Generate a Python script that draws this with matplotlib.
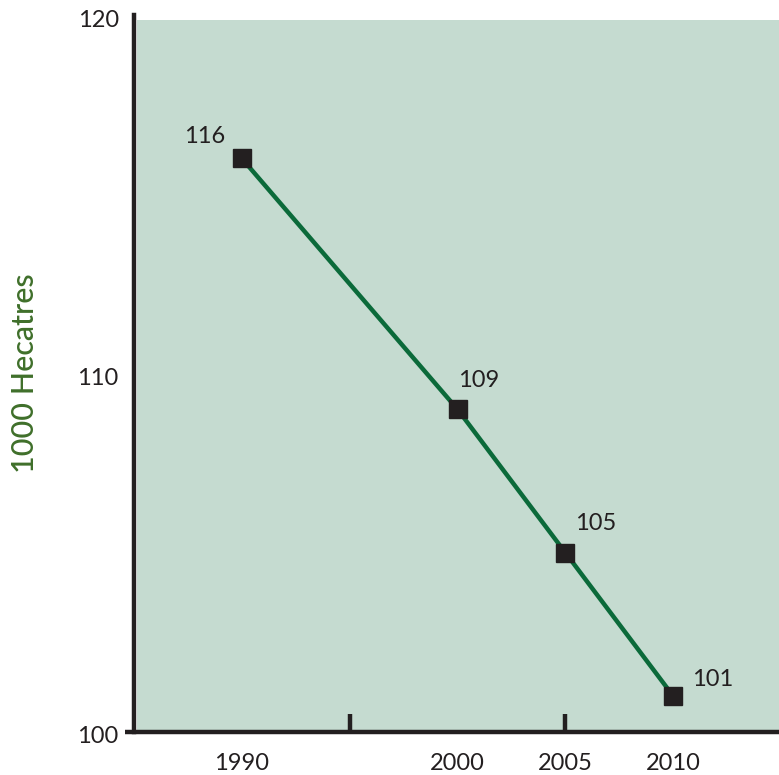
import matplotlib
matplotlib.use("Agg")
import matplotlib.pyplot as plt
from matplotlib.patches import Rectangle
from matplotlib.transforms import ScaledTranslation

# Forest area series
years = [1990, 2000, 2005, 2010]
area = [116, 109, 105, 101]
year_labels = ["1990", "2000", "2005", "2010"]
y_ticks = [100, 110, 120]
x_tick_marks = [1995, 2005]
point_labels = ["116", "109", "105", "101"]
label_offsets = [(-27, 16), (15, 21), (22, 21), (28, 12)]

plt.rcParams["font.family"] = ["Lato", "DejaVu Sans"]

ink = "#231F20"
panel = "#C5DBD0"
line_green = "#0B6A3A"
label_green = "#3F6F2A"

fig = plt.figure(figsize=(7.79, 7.75), dpi=100)
ax = fig.add_axes([0.172, 0.0555, 0.828, 0.925])
ax.set_xlim(1985, 2014.9)
ax.set_ylim(100, 120)
ax.set_facecolor("white")

# shaded plotting panel, stopping a little below the top tick
ax.add_patch(Rectangle((0.004, 0.0), 1.0, 0.993, transform=ax.transAxes,
                       facecolor=panel, edgecolor="none", zorder=0))

ax.plot(years, area, color=line_green, lw=3.2, zorder=2, solid_capstyle="butt")
ax.plot(years, area, ls="none", marker="s", ms=12.5, color=ink, zorder=3)

for x, y, txt, off in zip(years, area, point_labels, label_offsets):
    ax.annotate(txt, (x, y), xytext=off, textcoords="offset points",
                ha="center", va="center", fontsize=17, color=ink)

for side in ("top", "right"):
    ax.spines[side].set_visible(False)
for side in ("left", "bottom"):
    ax.spines[side].set_linewidth(3.2)
    ax.spines[side].set_color(ink)
ax.spines["bottom"].set_bounds(1984.6, 2014.9)
ax.spines["bottom"].set_capstyle("butt")

# x: labels under the points, tick marks between the labelled years
ax.xaxis.remove_overlapping_locs = False
ax.set_xticks(years)
ax.set_xticklabels(year_labels)
ax.tick_params(axis="x", which="major", length=0, pad=15, labelsize=17,
               labelcolor=ink)
ax.set_xticks(x_tick_marks, minor=True)
ax.tick_params(axis="x", which="minor", direction="in", length=13,
               width=3.2, color=ink, labelbottom=False)

# y: labels only, with a single inward tick at the top
ax.set_yticks(y_ticks)
ax.tick_params(axis="y", which="major", length=0, pad=11, labelsize=17,
               labelcolor=ink)
shift = ScaledTranslation(0, -5 / 100, fig.dpi_scale_trans)
for lab in ax.get_yticklabels():
    lab.set_va("center")
    lab.set_transform(lab.get_transform() + shift)
ax.set_yticks([120], minor=True)
ax.tick_params(axis="y", which="minor", direction="in", length=16,
               width=3.2, color=ink)

ax.set_ylabel("1000 Hecatres", fontsize=22, fontweight="medium",
              color=label_green, labelpad=28)

fig.savefig("out.png", dpi=100)
